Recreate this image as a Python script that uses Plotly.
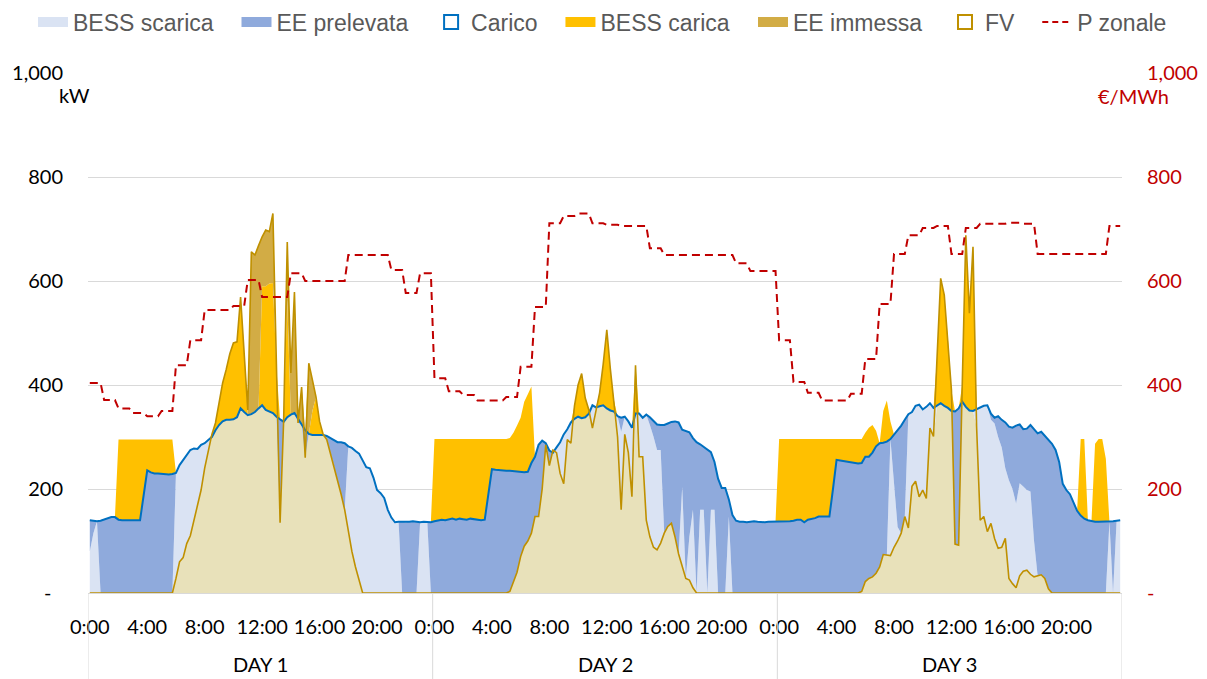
import numpy as np
import plotly.graph_objects as go

# ---------------------------------------------------------------
# Three days of 15-minute samples (96 per day), values in kW
# ---------------------------------------------------------------
carico = [
    # DAY 1
    140,139,138,139,141,144,146,146,141,140,140,140,140,140,140,188,
    236,232,230,230,229,228,228,229,231,246,256,265,275,278,277,285,
    288,294,300,313,323,330,333,333,334,338,355,348,342,344,348,355,
    361,352,349,346,339,334,329,338,343,346,335,325,313,306,304,304,
    304,304,302,298,293,290,290,288,282,279,273,268,255,242,240,222,
    198,192,183,160,145,136,137,137,136,137,138,137,136,137,137,136,
    # DAY 2
    138,140,141,140,142,143,141,143,142,141,143,142,141,140,141,190,
    238,237,236,236,235,235,234,233,233,232,233,250,262,285,293,288,
    274,270,280,290,305,315,328,335,339,336,338,345,361,357,359,361,
    355,351,349,340,337,339,330,318,345,345,337,343,338,331,324,323,
    323,326,329,330,328,314,312,309,298,290,286,281,277,271,252,220,
    202,202,180,150,139,137,137,136,137,138,137,136,136,137,137,138,
    # DAY 3
    137,137,137,138,139,141,141,136,141,142,144,147,147,147,147,200,
    256,255,254,253,252,250,249,250,262,262,270,282,288,289,291,296,
    305,312,322,333,344,348,360,362,353,358,365,356,360,365,360,356,
    350,349,355,368,358,351,350,353,356,360,361,345,337,340,333,328,
    320,318,322,324,315,316,323,316,307,310,303,295,287,275,252,210,
    198,190,175,158,149,143,140,138,137,137,137,138,137,138,139,140,
]

fv = [
    # DAY 1
    0,0,0,0,0,0,0,0,0,0,0,0,0,0,0,0,
    0,0,0,0,0,0,0,0,28,60,68,95,110,140,170,198,
    240,275,305,327,365,404,430,460,481,483,569,467,352,656,650,668,
    685,698,695,730,430,135,333,675,423,579,327,396,260,442,410,377,
    330,305,295,270,245,215,190,160,120,80,50,22,0,0,0,0,
    0,0,0,0,0,0,0,0,0,0,0,0,0,0,0,0,
    # DAY 2
    0,0,0,0,0,0,0,0,0,0,0,0,0,0,0,0,
    0,0,0,0,0,3,20,40,70,90,100,115,147,147,200,285,
    245,275,270,230,210,295,288,360,400,422,375,352,317,355,385,440,
    506,430,370,300,160,305,270,185,438,262,262,140,108,88,83,96,
    115,128,134,108,75,50,28,25,10,0,0,0,0,0,0,0,
    0,0,0,0,0,0,0,0,0,0,0,0,0,0,0,0,
    # DAY 3
    0,0,0,0,0,0,0,0,0,0,0,0,0,0,0,0,
    0,0,0,0,0,0,0,3,22,28,31,38,50,74,73,72,
    88,100,115,147,125,205,215,185,198,182,317,301,455,605,573,490,
    390,94,92,400,688,538,666,320,140,147,118,134,105,86,88,105,
    28,18,10,33,42,44,36,31,33,35,28,8,0,0,0,0,
    0,0,0,0,0,0,0,0,0,0,0,0,0,0,0,0,
]

bess_scarica = [
    # DAY 1
    80,115,138,0,0,0,0,0,0,0,0,0,0,0,0,0,
    0,0,0,0,0,0,0,0,203,186,188,170,165,138,107,87,
    48,19,0,0,0,0,0,0,0,0,0,0,0,0,0,0,
    0,0,0,0,0,0,0,0,0,0,0,0,0,0,0,0,
    0,0,0,0,0,0,0,0,162,199,223,246,255,242,240,222,
    198,192,183,160,145,136,137,0,0,0,0,0,136,137,137,0,
    # DAY 2
    0,0,0,0,0,0,0,0,0,0,0,0,0,0,0,0,
    0,0,0,0,0,0,0,0,0,0,0,0,0,0,0,0,
    0,0,10,60,95,20,40,0,0,0,0,0,44,2,0,0,
    0,0,0,40,150,34,60,133,0,83,75,203,215,213,192,179,
    0,0,0,0,0,154,0,83,150,0,160,160,0,160,160,0,
    0,0,147,0,0,0,0,0,0,0,0,0,0,0,0,0,
    # DAY 3
    0,0,0,0,0,0,0,0,0,0,0,0,0,0,0,0,
    0,0,0,0,0,0,0,0,0,0,0,0,0,0,0,224,
    123,27,0,0,219,143,145,177,155,176,48,55,0,0,0,0,
    0,0,0,0,0,0,0,33,216,213,243,199,221,214,192,135,
    189,182,162,178,163,154,159,69,0,0,0,0,0,0,0,0,
    0,0,0,0,0,0,0,0,0,0,0,0,137,0,139,140,
]

bess_carica = [
    # DAY 1
    0,0,0,0,0,0,0,0,154,155,155,155,155,155,155,107,
    59,63,65,65,66,67,67,66,0,0,0,0,0,0,0,0,
    0,0,5,14,42,74,97,127,147,145,214,119,0,0,0,0,
    229,238,246,250,91,0,4,225,0,0,0,0,0,0,46,73,
    26,1,0,0,0,0,0,0,0,0,0,0,0,0,0,0,
    0,0,0,0,0,0,0,0,0,0,0,0,0,0,0,0,
    # DAY 2
    158,156,155,156,154,153,155,153,154,155,153,154,155,156,155,106,
    58,59,60,60,61,63,74,89,104,136,149,147,0,0,0,0,
    0,0,0,0,0,0,0,25,61,86,37,7,0,0,26,79,
    151,79,21,0,0,0,0,0,93,0,0,0,0,0,0,0,
    0,0,0,0,0,0,0,0,0,0,0,0,0,0,0,0,
    0,0,0,0,0,0,0,0,0,0,0,0,0,0,0,0,
    # DAY 3
    159,159,159,158,157,155,155,160,155,154,152,149,149,149,149,96,
    40,41,42,43,44,46,47,46,46,56,53,30,0,61,79,34,
    0,0,0,0,0,0,0,0,0,0,0,0,95,240,213,134,
    40,0,0,32,330,187,316,0,0,0,0,0,0,0,0,0,
    0,0,0,0,0,0,0,0,0,0,0,0,0,0,0,0,
    0,0,0,0,147,153,0,0,150,159,159,120,0,0,0,0,
]

ee_immessa = [
    # DAY 1
    0,0,0,0,0,0,0,0,0,0,0,0,0,0,0,0,
    0,0,0,0,0,0,0,0,0,0,0,0,0,0,0,0,
    0,0,0,0,0,0,0,0,0,0,0,0,10,312,302,313,
    95,108,100,134,0,0,0,112,80,233,0,71,0,136,60,0,
    0,0,0,0,0,0,0,0,0,0,0,0,0,0,0,0,
    0,0,0,0,0,0,0,0,0,0,0,0,0,0,0,0,
    # DAY 2
    *([0] * 96),
    # DAY 3
    *([0] * 96),
]

# Hourly zonal price, EUR/MWh
p_zonale = [
    # DAY 1
    404,371,355,346,340,350,438,486,544,544,552,602,
    569,569,615,600,600,600,650,650,650,621,577,615,
    # DAY 2
    413,388,381,370,370,377,435,550,711,725,730,711,
    708,706,706,663,650,650,650,650,650,634,619,619,
    # DAY 3
    486,406,385,370,370,383,450,556,652,688,702,706,
    652,702,710,710,712,710,652,652,652,652,652,706,
]

giorni = ["DAY 1", "DAY 2", "DAY 3"]
ore_etichette = ["0:00", "4:00", "8:00", "12:00", "16:00", "20:00"]
kw_ticks = [0, 200, 400, 600, 800, 1000]
kw_labels = ["-\u2007", "200", "400", "600", "800", "1,000"]
eur_labels = ["-", "200", "400", "600", "800", "1,000"]

# ---------------------------------------------------------------
carico = np.array(carico, float)
fv = np.array(fv, float)
bess_scarica = np.array(bess_scarica, float)
bess_carica = np.array(bess_carica, float)
ee_immessa = np.array(ee_immessa, float)

passi = len(carico)                 # 288 quarter-hours
x = np.arange(passi) + 0.5          # points centred in each category
prezzo = np.repeat(p_zonale, 4)     # hourly price on the 15-min grid

# energy balance below the load curve
autoconsumo = np.minimum(fv, carico)
ee_prelevata = np.clip(carico - autoconsumo - bess_scarica, 0, None)

C_SCARICA = "#DAE3F3"
C_PRELEVATA = "#8FAADC"
C_CARICO = "#0070C0"
C_CARICA = "#FFC000"
C_IMMESSA = "#D2AC45"
C_FV_FILL = "#E8E1BA"
C_FV = "#BF9000"
C_PREZZO = "#C00000"

F_ASSI = "Lato, Liberation Sans, Arial, sans-serif"
F_LEG = "Liberation Sans, Arial, sans-serif"

fig = go.Figure()

for nome, valori, colore in [
    ("Autoconsumo FV", autoconsumo, C_FV_FILL),
    ("BESS scarica", bess_scarica, C_SCARICA),
    ("EE prelevata", ee_prelevata, C_PRELEVATA),
    ("BESS carica", bess_carica, C_CARICA),
    ("EE immessa", ee_immessa, C_IMMESSA),
]:
    fig.add_trace(go.Scatter(
        x=x, y=valori, name=nome, mode="none", stackgroup="kw",
        fillcolor=colore, showlegend=False, hoverinfo="skip",
    ))

fig.add_trace(go.Scatter(
    x=x, y=carico, mode="lines", line=dict(color=C_CARICO, width=2),
    showlegend=False, hoverinfo="skip",
))
fig.add_trace(go.Scatter(
    x=x, y=fv, mode="lines", line=dict(color=C_FV, width=1.6),
    showlegend=False, hoverinfo="skip",
))
fig.add_trace(go.Scatter(
    x=x, y=prezzo, yaxis="y2", mode="lines",
    line=dict(color=C_PREZZO, width=2, dash="8px,5px"),
    showlegend=False, hoverinfo="skip",
))

# legend entries (split over two legend boxes on the same row)
pad = "\u2002\u00a0"
def voce_area(nome, colore, leg):
    return go.Scatter(x=[None], y=[None], mode="lines", name=nome + pad,
                      legend=leg, line=dict(color=colore, width=14))

def voce_bordo(nome, colore, leg):
    return go.Scatter(x=[None], y=[None], mode="markers", name=nome + pad,
                      legend=leg,
                      marker=dict(symbol="square-open", size=14,
                                  line=dict(color=colore, width=2), color=colore))

fig.add_trace(voce_area("BESS scarica", C_SCARICA, "legend"))
fig.add_trace(voce_area("EE prelevata", C_PRELEVATA, "legend"))
fig.add_trace(voce_bordo("Carico", C_CARICO, "legend"))
fig.add_trace(voce_area("BESS carica", C_CARICA, "legend"))
fig.add_trace(voce_area("EE immessa", C_IMMESSA, "legend2"))
fig.add_trace(voce_bordo("FV", C_FV, "legend2"))
fig.add_trace(go.Scatter(x=[None], y=[None], mode="lines", name="P zonale",
                         legend="legend2",
                         line=dict(color=C_PREZZO, width=2, dash="6px,4px")))

tick_x = [g * 96 + h * 16 + 0.5 for g in range(3) for h in range(6)]
tick_t = ore_etichette * 3

leg_style = dict(
    orientation="h", xref="container", yref="container",
    y=0.9676, xanchor="left", yanchor="middle",
    font=dict(family=F_LEG, size=23, color="#595959"),
    bgcolor="rgba(0,0,0,0)", traceorder="normal",
)

fig.update_layout(
    width=1207, height=679,
    margin=dict(l=88, r=85, t=73, b=86, autoexpand=False),
    paper_bgcolor="white", plot_bgcolor="white",
    font=dict(family=F_ASSI, size=20, color="#000000"),
    showlegend=True,
    legend=dict(x=33 / 1207, **leg_style),
    legend2=dict(x=753 / 1207, **leg_style),
    hovermode=False,
    xaxis=dict(
        range=[0, passi], showgrid=False, zeroline=False, automargin=False,
        showline=True, linecolor="#D9D9D9", linewidth=1,
        tickmode="array", tickvals=tick_x, ticktext=tick_t, tickangle=0,
        ticks="", ticklabelstandoff=16,
        tickfont=dict(family=F_ASSI, size=20, color="#000000"),
    ),
    yaxis=dict(
        range=[0, 1000], tickmode="array", tickvals=kw_ticks, ticktext=kw_labels,
        showgrid=True, gridcolor="#D9D9D9", gridwidth=1, automargin=False,
        zeroline=False, showline=False, ticks="", ticklabelstandoff=24,
        tickfont=dict(family=F_ASSI, size=20, color="#000000"),
    ),
    yaxis2=dict(
        range=[0, 1000], overlaying="y", side="right", automargin=False,
        tickmode="array", tickvals=kw_ticks, ticktext=eur_labels,
        showgrid=False, zeroline=False, showline=False, ticks="",
        ticklabelstandoff=24,
        tickfont=dict(family=F_ASSI, size=20, color=C_PREZZO),
    ),
)

# day group labels and separators under the time axis
for g, nome in enumerate(giorni):
    fig.add_annotation(x=g * 96 + 48, y=-0.1365, xref="x", yref="paper",
                       text=nome, showarrow=False, yanchor="middle",
                       font=dict(family=F_ASSI, size=20, color="#000000"))
for g in range(4):
    fig.add_shape(type="line", xref="x", yref="paper",
                  x0=g * 96, x1=g * 96, y0=0, y1=-0.1654,
                  line=dict(color="#D9D9D9", width=1))

fig.add_annotation(x=-0.0126, y=0.9577, xref="paper", yref="paper", text="kW",
                   showarrow=False, xanchor="center", yanchor="middle",
                   font=dict(family=F_ASSI, size=20, color="#000000"))
fig.add_annotation(x=1.0116, y=0.955, xref="paper", yref="paper", text="€/MWh",
                   showarrow=False, xanchor="center", yanchor="middle",
                   font=dict(family=F_ASSI, size=20, color=C_PREZZO))

fig.write_html("out.html")
